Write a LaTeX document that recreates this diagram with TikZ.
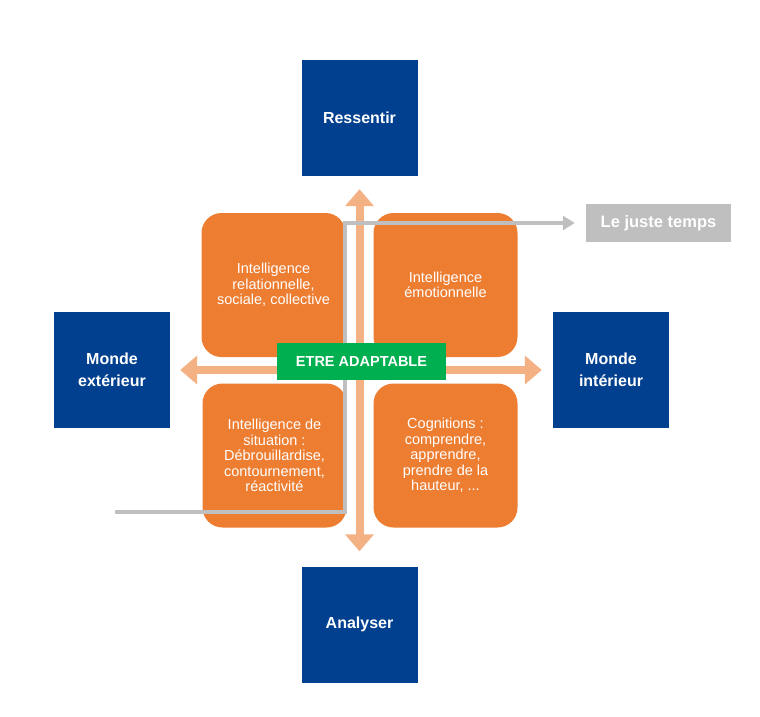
\documentclass[tikz,border=0pt]{standalone}
\usepackage{fontspec}
\setmainfont{Liberation Sans}
\usetikzlibrary{arrows.meta,positioning}
\definecolor{bleu}{HTML}{00408F}
\definecolor{orangefonce}{HTML}{ED7D31}
\definecolor{orangeclair}{HTML}{F4B183}
\definecolor{vert}{HTML}{00B050}
\definecolor{gris}{HTML}{BFBFBF}
\tikzset{
  pole/.style={fill=bleu,text=white,font=\fontsize{16}{22}\selectfont\bfseries,
    minimum width=116pt,minimum height=116pt,inner sep=0pt,align=center},
  quadrant/.style={fill=orangefonce,text=white,rounded corners=20pt,
    minimum width=144pt,minimum height=144pt,inner sep=0pt,align=center,
    font=\fontsize{14.5}{15.5}\selectfont},
  axe/.style={draw=orangeclair,line width=8pt,
    {Triangle[width=28pt,length=17pt]}-{Triangle[width=28pt,length=17pt]}},
  fil/.style={draw=gris,line width=4pt,-{Triangle[width=14pt,length=12pt]}},
}
\begin{document}
\begin{tikzpicture}[x=1pt,y=-1pt]
  \useasboundingbox (0,0) rectangle (760,716);
  \node[pole] (ressentir) at (359.5,118) {Ressentir};
  \node[pole] (analyser) at (359.5,624.5) {Analyser};
  \node[pole] (mondeext) at (112,370) {Monde\\extérieur};
  \node[pole] (mondeint) at (611,370) {Monde\\intérieur};

  \draw[axe,shorten <=13pt,shorten >=15pt] (ressentir) -- (analyser);
  \draw[axe,shorten <=10pt,shorten >=11pt] (mondeext) -- (mondeint);

  \node[quadrant] (relation) at (273.5,285) {Intelligence\\relationnelle,\\sociale, collective};
  \node[quadrant] (emotion) at (445.5,285) {Intelligence\\émotionnelle};
  \node[quadrant] (situation) at (274.5,455.5) {Intelligence de\\situation :\\Débrouillardise,\\contournement,\\réactivité};
  \node[quadrant] (cognition) at (445.5,455.5) {Cognitions :\\comprendre,\\apprendre,\\prendre de la\\hauteur, ...};

  \node[fill=gris,text=white,font=\fontsize{16.5}{18}\selectfont\bfseries,
    minimum width=145pt,minimum height=38pt,inner sep=0pt] (juste) at (658.5,223) {Le juste temps};
  \coordinate (depart) at (115,512);
  \coordinate (coude) at (345,223);
  \draw[fil,shorten >=11pt] (depart) -| (coude) -- (juste.west);

  \node[fill=vert,text=white,font=\fontsize{14.5}{17}\selectfont\bfseries,
    minimum width=169pt,minimum height=37pt,inner sep=0pt] (adaptable) at (361.5,361.5) {ETRE ADAPTABLE};
\end{tikzpicture}
\end{document}
